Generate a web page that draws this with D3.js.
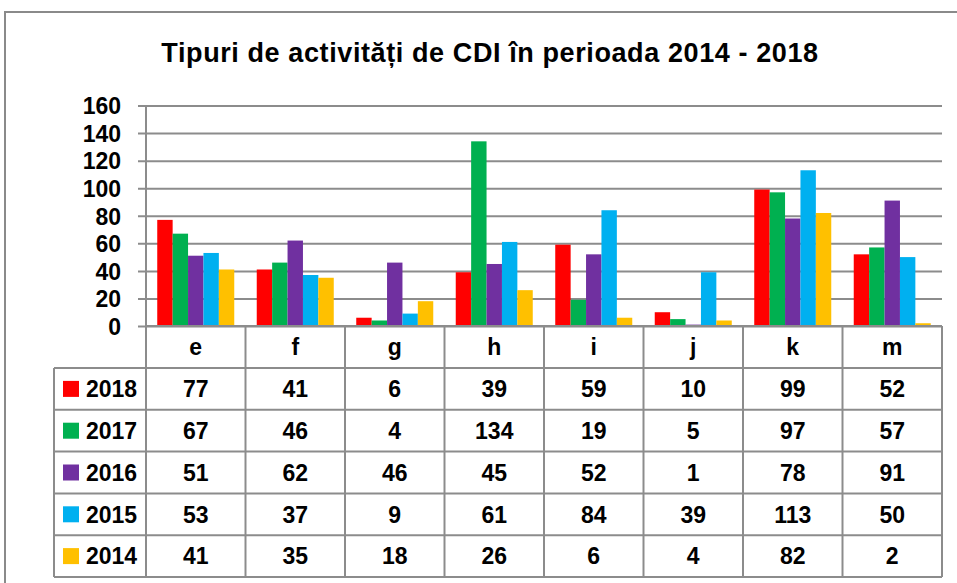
<!DOCTYPE html>
<html>
<head>
  <meta charset="utf-8">
  <script src="https://d3js.org/d3.v7.min.js"></script>
  <style type="text/css">
  body{
    margin: 0;
    background: #fff;
  }
  svg{
    display: block;
    font-family: "Liberation Sans", Arial, sans-serif;
  }
  .yaxis path {
    display: none;
  }
  .yaxis line {
    stroke: #8c8c8c;
    stroke-width: 2;
  }
  .yaxis text {
    font-size: 23px;
    font-weight: bold;
    fill: #000;
  }
  .cell {
    font-size: 23px;
    font-weight: bold;
    text-anchor: middle;
  }
  </style>
</head>
<body>
  <script type="text/javascript">
    // chart data
    var categories = ["e", "f", "g", "h", "i", "j", "k", "m"];
    var years = ["2018", "2017", "2016", "2015", "2014"];
    var v2018 = [77, 41, 6, 39, 59, 10, 99, 52];
    var v2017 = [67, 46, 4, 134, 19, 5, 97, 57];
    var v2016 = [51, 62, 46, 45, 52, 1, 78, 91];
    var v2015 = [53, 37, 9, 61, 84, 39, 113, 50];
    var v2014 = [41, 35, 18, 26, 6, 4, 82, 2];
    var colors = ["#ff0000", "#00b050", "#7030a0", "#00b0f0", "#ffc000"];
    var yTicks = [0, 20, 40, 60, 80, 100, 120, 140, 160];
    var title = "Tipuri de activități de CDI în perioada 2014 - 2018";

    var series = [v2018, v2017, v2016, v2015, v2014];
    var W = 957, H = 583;
    var plot = {left: 146, right: 942, top: 105.5, bottom: 326};
    var table = {left: 54, headBottom: 368, bottom: 577};

    var svg = d3.select("body").append("svg")
      .attr("width", W)
      .attr("height", H);

    // outer frame
    svg.append("path")
      .attr("d", "M5," + H + "V12H" + W)
      .attr("fill", "none")
      .attr("stroke", "#8a8a8a")
      .attr("stroke-width", 2);

    svg.append("text")
      .attr("x", 490)
      .attr("y", 62)
      .attr("text-anchor", "middle")
      .style("font-size", "27px")
      .style("font-weight", "bold")
      .style("letter-spacing", "0.6px")
      .text(title);

    var x = d3.scaleBand()
      .domain(categories)
      .range([plot.left, plot.right]);

    var xs = d3.scaleBand()
      .domain(years)
      .range([0, x.bandwidth()])
      .paddingOuter(0.73);

    var y = d3.scaleLinear()
      .domain([0, 160])
      .range([plot.bottom, plot.top]);

    var row = d3.scaleBand()
      .domain(years)
      .range([table.headBottom, table.bottom]);

    // y axis with gridlines
    var yAxis = svg.append("g")
      .attr("class", "yaxis")
      .attr("transform", "translate(" + plot.left + ",0)")
      .call(d3.axisLeft(y).tickValues(yTicks).tickSize(8).tickPadding(17));
    yAxis.selectAll(".tick line")
      .attr("x1", -8)
      .attr("x2", plot.right - plot.left);
    yAxis.selectAll(".tick text").attr("dy", "0.36em");

    // bars
    var grp = svg.selectAll(".year")
      .data(series)
      .enter().append("g")
      .attr("class", "year")
      .attr("fill", function(d, i) { return colors[i]; });

    grp.selectAll("rect")
      .data(function(d, i) {
        return d.map(function(v, j) { return {year: years[i], cat: categories[j], value: v}; });
      })
      .enter().append("rect")
      .attr("x", function(d) { return x(d.cat) + xs(d.year); })
      .attr("y", function(d) { return y(d.value); })
      .attr("width", xs.bandwidth())
      .attr("height", function(d) { return y(0) - y(d.value); });

    // data table
    var lines = svg.append("g")
      .attr("stroke", "#8c8c8c")
      .attr("stroke-width", 2)
      .attr("fill", "none");

    // vertical lines
    var xb = categories.map(function(c) { return x(c); }).concat([plot.right]);
    xb.forEach(function(xv) {
      lines.append("line")
        .attr("x1", xv).attr("x2", xv)
        .attr("y1", xv === plot.left ? plot.top : plot.bottom)
        .attr("y2", table.bottom);
    });
    lines.append("line")
      .attr("x1", table.left).attr("x2", table.left)
      .attr("y1", table.headBottom).attr("y2", table.bottom);
    lines.append("line")
      .attr("x1", plot.left).attr("x2", plot.right)
      .attr("y1", plot.bottom).attr("y2", plot.bottom);

    // horizontal lines
    years.forEach(function(yr) {
      lines.append("line")
        .attr("x1", table.left).attr("x2", plot.right)
        .attr("y1", row(yr)).attr("y2", row(yr));
    });
    lines.append("line")
      .attr("x1", table.left).attr("x2", plot.right)
      .attr("y1", table.bottom).attr("y2", table.bottom);

    // category headers
    svg.selectAll(".cat")
      .data(categories)
      .enter().append("text")
      .attr("class", "cell")
      .attr("x", function(d) { return x(d) + x.bandwidth() / 2; })
      .attr("y", (plot.bottom + table.headBottom) / 2)
      .attr("dy", "0.36em")
      .text(function(d) { return d; });

    // legend keys and year labels
    var leg = svg.selectAll(".leg")
      .data(years)
      .enter().append("g")
      .attr("class", "leg")
      .attr("transform", function(d) { return "translate(0," + (row(d) + row.bandwidth() / 2) + ")"; });

    leg.append("rect")
      .attr("x", 63)
      .attr("y", -8)
      .attr("width", 16)
      .attr("height", 16)
      .attr("fill", function(d, i) { return colors[i]; });

    leg.append("text")
      .attr("class", "cell")
      .attr("x", 86)
      .attr("dy", "0.36em")
      .style("text-anchor", "start")
      .text(function(d) { return d; });

    // values
    series.forEach(function(s, i) {
      svg.selectAll(".val" + i)
        .data(s)
        .enter().append("text")
        .attr("class", "cell")
        .attr("x", function(d, j) { return x(categories[j]) + x.bandwidth() / 2; })
        .attr("y", row(years[i]) + row.bandwidth() / 2)
        .attr("dy", "0.36em")
        .text(function(d) { return d; });
    });
  </script>
</body>
</html>
